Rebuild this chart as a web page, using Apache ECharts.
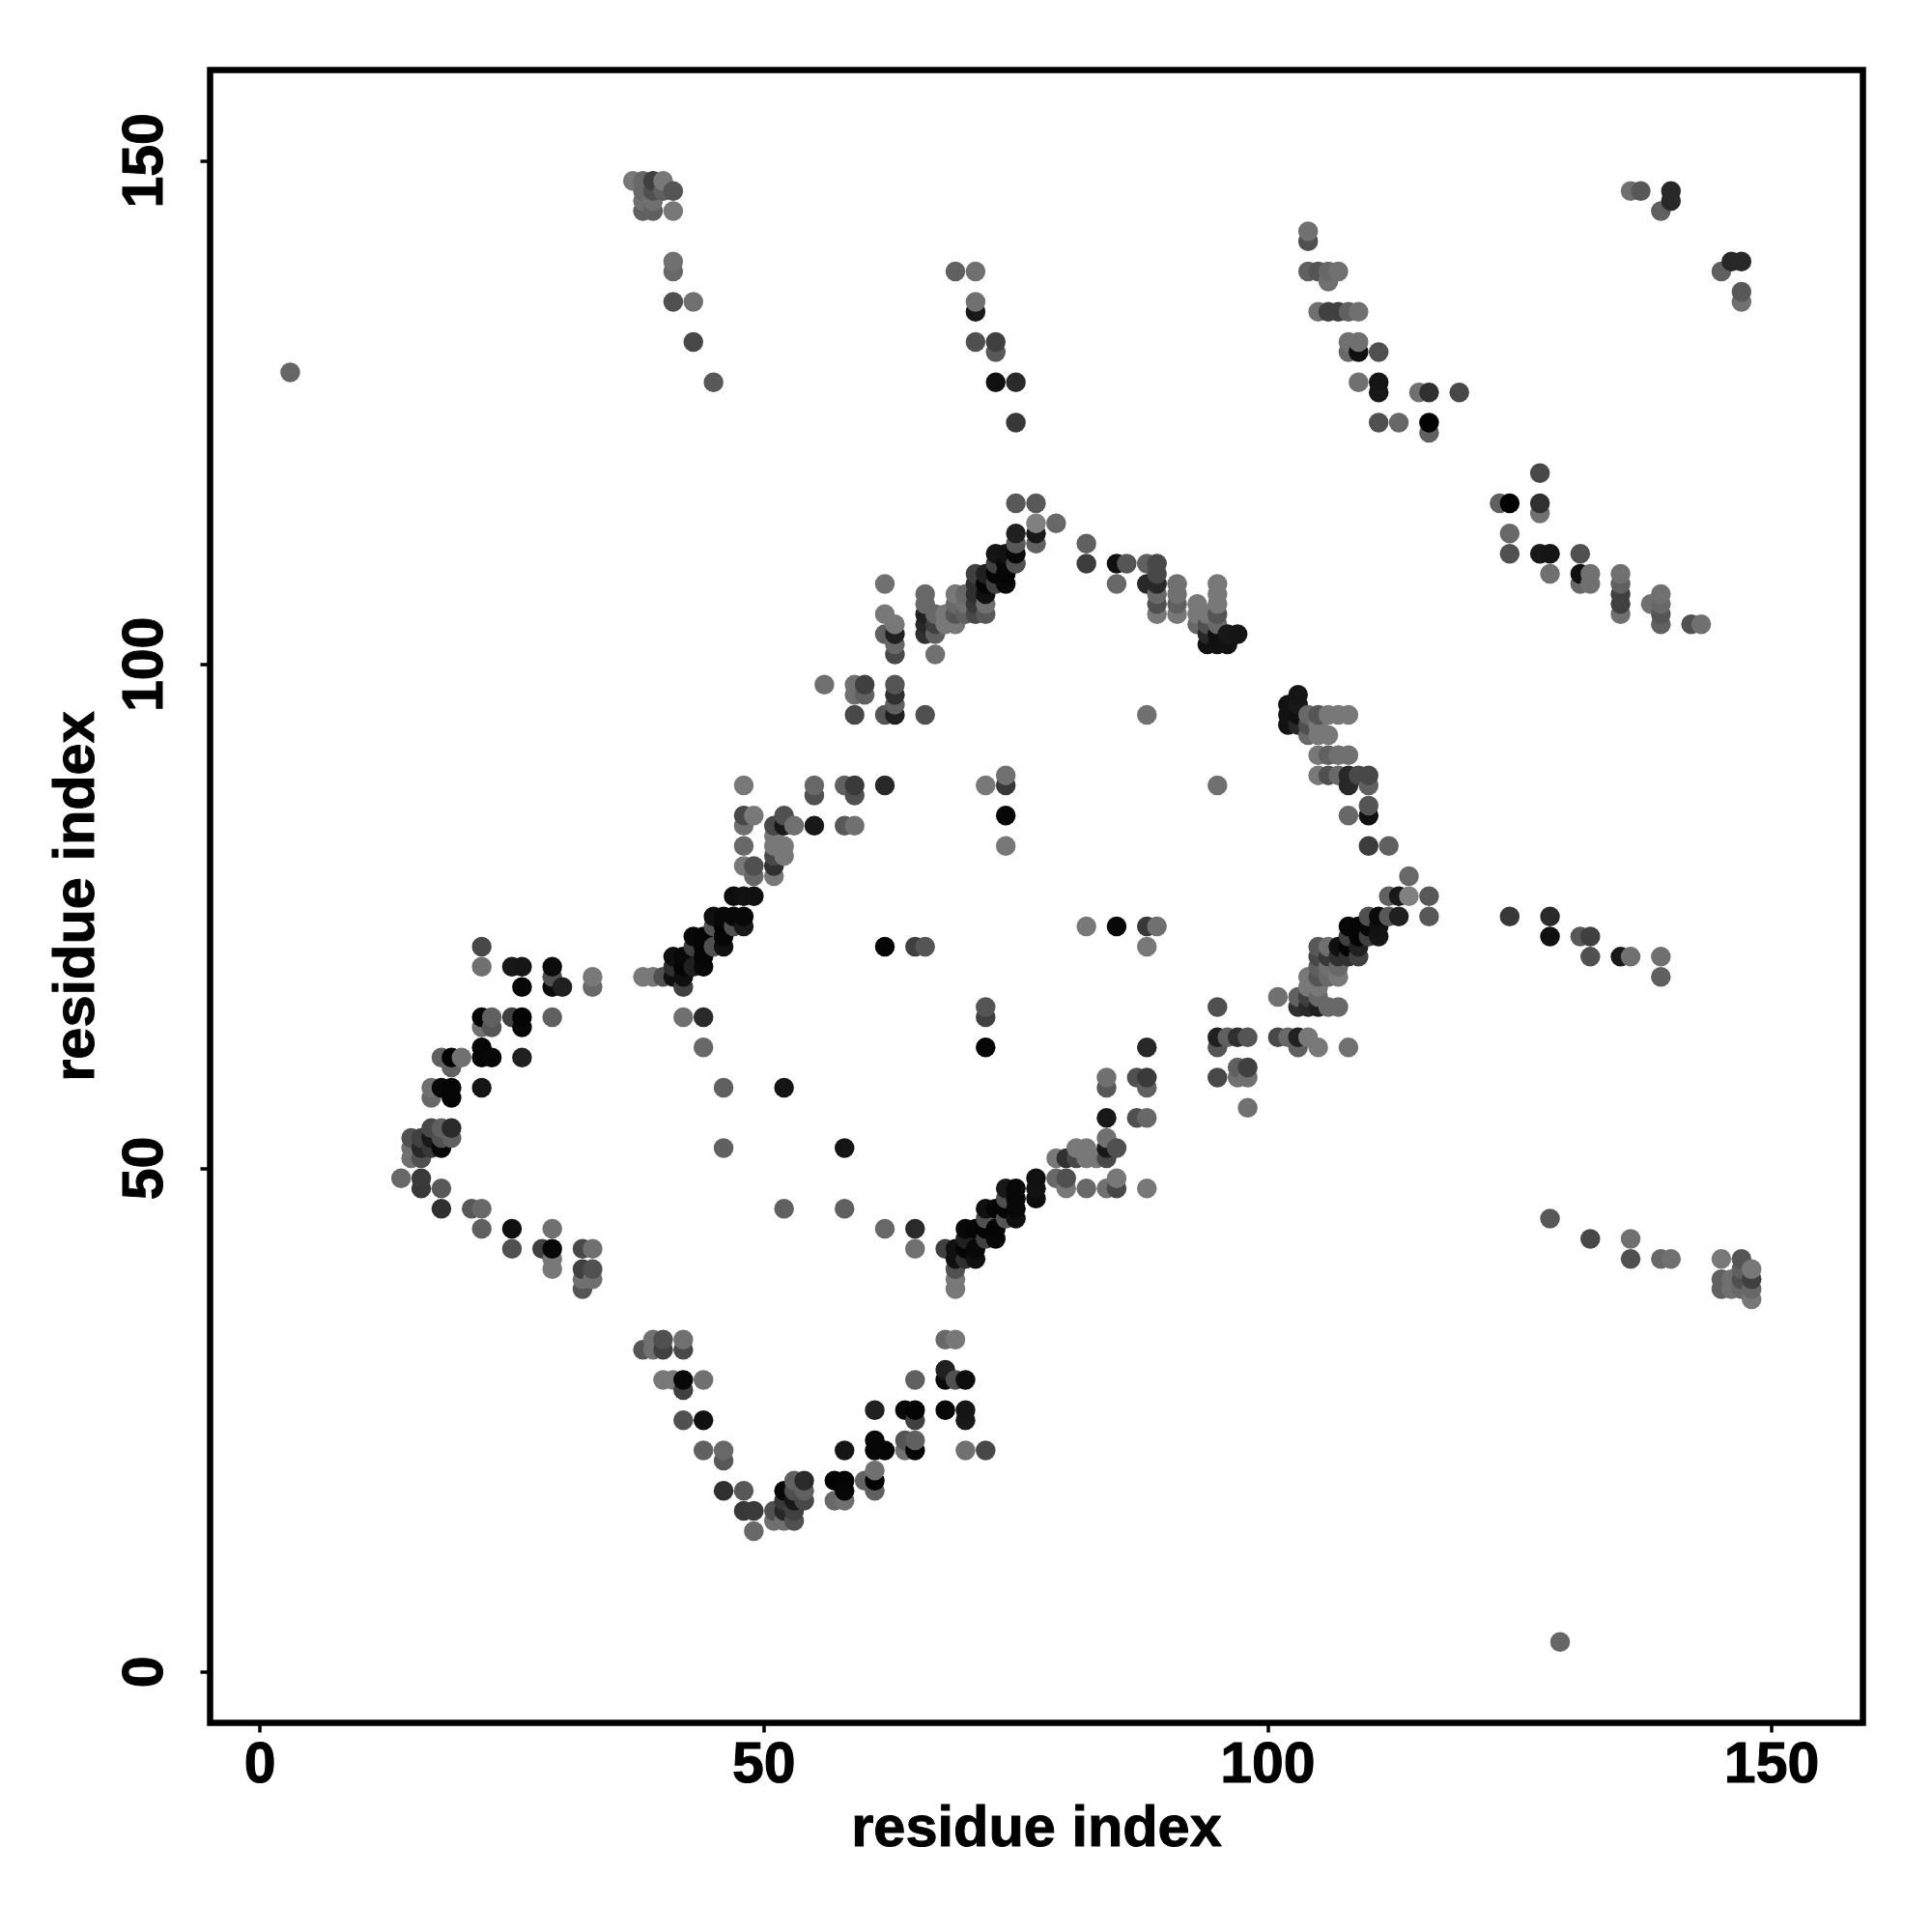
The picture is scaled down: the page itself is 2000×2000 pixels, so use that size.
<!DOCTYPE html>
<html>
<head>
<meta charset="utf-8">
<title>residue contact map</title>
<script src="https://cdn.jsdelivr.net/npm/echarts@6/dist/echarts.min.js"></script>
<style>html,body{margin:0;padding:0;background:#fff}#c{width:2000px;height:2000px}</style>
</head>
<body>
<div id="c"></div>
<script>
const tickValues = [0, 50, 100, 150];
const xTitle = 'residue index';
const yTitle = 'residue index';

// Contacts above the diagonal, grouped by x residue. Grey level read per dot.
const upperX = [3,14,15,16,17,18,19,20,21,22,23,25,26,28,29,30,32,33,37,38,39,40,41,42,43,44,45,46,47,48,49,51,52,53,55,56,58,59,60,62,63,65,66,67,68,69,70,71,72,73,74,75,77,79,82,85,86,88,89,91,93,94,95,96,97,104,105,106,107,108,109,111,113,115,116,119,136,137,139,140];
const upperY = [[129],[49],[51,52,53],[48,49,51,52,53],[52,53,54,57,58],[46,48,52,53,54,58,61],[53,54,57,58,60,61],[61],[46],[44,46,58,61,62,64,65,70,72],[61,64,65],[42,44,65,70],[61,64,65,68,70],[42],[40,41,42,44,65,68,69,70],[68],[38,39,40,42],[39,40,42,68,69],[148],[69,145,146,147,148],[69,145,146,147,148],[69,147,148],[69,70,71,136,139,140,145,147],[65,68,69,70,71],[70,72,73,132,136],[62,65,70,71,72,73],[72,74,75,128],[52,58,72,73,74,75],[74,75,77],[74,75,77,80,82,84,85,88],[77,79,80,85],[79,80,81,82,83,84],[58,81,82,84,85],[84],[84,87,88],[98],[84,88],[84,87,88,95,97,98],[97,98],[72,88,95,103,105,108],[95,96,97,98,101,102,103,104],[72],[72,95,103,104,105,106,107],[101,103,104,105],[104,105],[104,105,106,107,139],[105,106,107],[105,106,107,108,109,132,135,136,139],[88,105,106,107,108,109],[108,109,110,111,128,131,132],[82,85,88,89,108,109,110,111],[110,111,112,113,116,124,128],[112,113,114,116],[114],[110,112],[108,110],[110],[95,108,110],[105,106,107,108,109,110],[105,106,107,108],[104,105,106],[102,103,104,105],[102,103,104,105,106,107,108],[102,103],[103],[139,142,143],[135,139],[135,138,139],[135,139],[131,132,135],[128,131,132,135],[124,127,128,131],[124],[127],[123,124,127],[127],[147],[147],[145],[146,147]];
const upperGrey = [[0x66],[0x68],[0x70,0x70,0x50],[0x38,0x3a,0x50,0x28,0x40],[0x38,0x18,0x48,0x68,0x70],[0x30,0x58,0x08,0x50,0x60,0x08,0x60],[0x60,0x2a,0x03,0x05,0x62,0x02],[0x70],[0x58],[0x60,0x68,0x15,0x05,0x06,0x70,0x05,0x70,0x48],[0x08,0x55,0x60],[0x50,0x10,0x40,0x18],[0x20,0x08,0x04,0x08,0x15],[0x40],[0x78,0x78,0x08,0x70,0x60,0x0a,0x50,0x0c],[0x20],[0x55,0x70,0x40,0x48],[0x70,0x50,0x70,0x68,0x78],[0x78],[0x78,0x60,0x70,0x68,0x68],[0x78,0x60,0x70,0x50,0x40],[0x50,0x60,0x78],[0x10,0x30,0x10,0x50,0x68,0x70,0x78,0x55],[0x70,0x40,0x10,0x05,0x08],[0x20,0x40,0x08,0x48,0x70],[0x68,0x2a,0x08,0x05,0x05,0x05],[0x50,0x55,0x10,0x58],[0x60,0x60,0x10,0x05,0x05,0x08],[0x50,0x08,0x0c],[0x18,0x08,0x12,0x78,0x68,0x70,0x48,0x78],[0x10,0x68,0x50,0x78],[0x78,0x30,0x48,0x78,0x78,0x48],[0x15,0x78,0x78,0x18,0x50],[0x70],[0x18,0x50,0x68],[0x70],[0x58,0x60],[0x70,0x50,0x3a,0x48,0x70,0x70],[0x60,0x40],[0x06,0x28,0x55,0x60,0x78,0x70],[0x20,0x60,0x30,0x55,0x48,0x68,0x20,0x78],[0x40],[0x55,0x50,0x30,0x28,0x20,0x68,0x68],[0x70,0x60,0x40,0x68],[0x78,0x78],[0x78,0x55,0x68,0x78,0x60],[0x60,0x70,0x68],[0x48,0x38,0x30,0x30,0x40,0x50,0x18,0x70,0x70],[0x78,0x58,0x70,0x10,0x05,0x20],[0x40,0x05,0x40,0x15,0x10,0x58,0x40],[0x78,0x08,0x38,0x70,0x08,0x05,0x08,0x12],[0x50,0x0a,0x58,0x20,0x58,0x38,0x2a],[0x60,0x18,0x80,0x58],[0x68],[0x3c,0x60],[0x68,0x10],[0x55],[0x70,0x28,0x60],[0x78,0x50,0x68,0x28,0x48,0x48],[0x78,0x60,0x70,0x70],[0x68,0x78,0x78],[0x12,0x28,0x50,0x78],[0x12,0x10,0x68,0x55,0x78,0x78,0x78],[0x12,0x18],[0x15],[0x60,0x50,0x70],[0x70,0x55],[0x40,0x70,0x68],[0x40,0x70],[0x68,0x70,0x60],[0x70,0x10,0x70,0x70],[0x50,0x18,0x15,0x50],[0x68],[0x70],[0x60,0x02,0x30],[0x48],[0x70],[0x58],[0x60],[0x28,0x28]];

// Contacts below the diagonal, grouped by y residue. Grey level read per dot.
const lowerY = [3,14,15,16,17,18,19,20,21,22,23,25,26,28,29,30,32,33,37,38,39,40,41,42,43,44,45,46,47,48,49,51,52,53,55,56,58,59,60,62,63,65,66,67,68,69,70,71,72,73,74,75,77,79,82,85,86,88,89,91,93,94,95,96,97,104,105,106,107,108,109,111,113,115,116,119,136,137,139,140];
const lowerX = [[129],[49],[51,52,53],[48,49,51,52,53],[52,53,54,57,58],[46,48,52,53,54,58,61],[53,54,57,58,60,61],[61],[46],[44,46,58,61,62,64,65,70,72],[61,64,65],[42,44,65,70],[61,64,65,68,70],[42],[40,41,42,44,65,68,69,70],[68],[38,39,40,42],[39,40,42,68,69],[148],[69,145,146,147,148],[69,145,146,147,148],[69,147,148],[69,70,71,136,139,140,145,147],[65,68,69,70,71],[70,72,73,132,136],[62,65,70,71,72,73],[72,74,75,128],[52,58,72,73,74,75],[74,75,77],[74,75,77,80,82,84,85,88],[77,79,80,85],[79,80,81,82,83,84],[58,81,82,84,85],[84],[84,87,88],[98],[84,88],[84,87,88,95,97,98],[97,98],[72,88,95,103,105,108],[95,96,97,98,101,102,103,104],[72],[72,95,103,104,105,106,107],[101,103,104,105],[104,105],[104,105,106,107,139],[105,106,107],[105,106,107,108,109,132,135,136,139],[88,105,106,107,108,109],[108,109,110,111,128,131,132],[82,85,88,89,108,109,110,111],[110,111,112,113,116,124,128],[112,113,114,116],[114],[110,112],[108,110],[110],[95,108,110],[105,106,107,108,109,110],[105,106,107,108],[104,105,106],[102,103,104,105],[102,103,104,105,106,107,108],[102,103],[103],[139,142,143],[135,139],[135,138,139],[135,139],[131,132,135],[128,131,132,135],[124,127,128,131],[124],[127],[123,124,127],[127],[147],[147],[145],[146,147]];
const lowerGrey = [[0x66],[0x68],[0x70,0x70,0x50],[0x38,0x3a,0x50,0x28,0x40],[0x38,0x18,0x48,0x68,0x70],[0x30,0x58,0x08,0x50,0x60,0x08,0x60],[0x60,0x2a,0x03,0x05,0x62,0x02],[0x70],[0x58],[0x60,0x68,0x15,0x05,0x06,0x70,0x05,0x70,0x48],[0x08,0x55,0x60],[0x50,0x10,0x40,0x18],[0x20,0x08,0x04,0x08,0x15],[0x40],[0x78,0x78,0x08,0x70,0x60,0x0a,0x50,0x0c],[0x20],[0x55,0x70,0x40,0x48],[0x70,0x50,0x70,0x68,0x78],[0x78],[0x78,0x60,0x70,0x68,0x68],[0x78,0x60,0x70,0x50,0x40],[0x50,0x60,0x78],[0x10,0x30,0x10,0x50,0x68,0x70,0x78,0x55],[0x70,0x40,0x10,0x05,0x08],[0x20,0x40,0x08,0x48,0x70],[0x68,0x2a,0x08,0x05,0x05,0x05],[0x50,0x55,0x10,0x58],[0x60,0x60,0x10,0x05,0x05,0x08],[0x50,0x08,0x0c],[0x18,0x08,0x12,0x78,0x68,0x70,0x48,0x78],[0x10,0x68,0x50,0x78],[0x78,0x30,0x48,0x78,0x78,0x48],[0x15,0x78,0x78,0x18,0x50],[0x70],[0x18,0x50,0x68],[0x70],[0x58,0x60],[0x70,0x50,0x3a,0x48,0x70,0x70],[0x60,0x40],[0x06,0x28,0x55,0x60,0x78,0x70],[0x20,0x60,0x30,0x55,0x48,0x68,0x20,0x78],[0x40],[0x55,0x50,0x30,0x28,0x20,0x68,0x68],[0x70,0x60,0x40,0x68],[0x78,0x78],[0x78,0x55,0x68,0x78,0x60],[0x60,0x70,0x68],[0x48,0x38,0x30,0x30,0x40,0x50,0x18,0x70,0x70],[0x78,0x58,0x70,0x10,0x05,0x20],[0x40,0x05,0x40,0x15,0x10,0x58,0x40],[0x78,0x08,0x38,0x70,0x08,0x05,0x08,0x12],[0x50,0x0a,0x58,0x20,0x58,0x38,0x2a],[0x60,0x18,0x80,0x58],[0x68],[0x3c,0x60],[0x68,0x10],[0x55],[0x70,0x28,0x60],[0x78,0x50,0x68,0x28,0x48,0x48],[0x78,0x60,0x70,0x70],[0x68,0x78,0x78],[0x12,0x28,0x50,0x78],[0x12,0x10,0x68,0x55,0x78,0x78,0x78],[0x12,0x18],[0x15],[0x60,0x50,0x70],[0x70,0x55],[0x40,0x70,0x68],[0x40,0x70],[0x68,0x70,0x60],[0x70,0x10,0x70,0x70],[0x50,0x18,0x15,0x50],[0x68],[0x70],[0x60,0x02,0x30],[0x48],[0x70],[0x58],[0x60],[0x28,0x28]];

const rows = [];
upperX.forEach((x, i) => upperY[i].forEach((y, k) => rows.push([x, y, upperGrey[i][k]])));
lowerY.forEach((y, i) => lowerX[i].forEach((x, k) => rows.push([x, y, lowerGrey[i][k]])));
// paint order of the original: by x, then by y
rows.sort((a, b) => a[0] - b[0] || a[1] - b[1]);

const FONT = '"Liberation Sans"';
const chart = echarts.init(document.getElementById('c'), null, { renderer: 'canvas', width: 2000, height: 2000 });
function axis(min, max, margin, rotate, gap) {
  return {
    type: 'value', min, max, scale: false,
    name: xTitle, nameLocation: 'middle', nameGap: gap,
    nameTextStyle: { fontFamily: FONT, fontWeight: 'bold', fontSize: 59.5, color: '#000', textBorderColor: '#000', textBorderWidth: 1 },
    axisLine: { show: false, onZero: false },
    splitLine: { show: false },
    axisTick: { show: true, length: 10, lineStyle: { width: 3.5, color: '#000' }, customValues: tickValues },
    axisLabel: { show: true, rotate, margin, hideOverlap: false, showMinLabel: true, showMaxLabel: true, fontFamily: FONT, fontWeight: 'bold', fontSize: 59, color: '#000', textBorderColor: '#000', textBorderWidth: 1, customValues: tickValues }
  };
}
chart.setOption({
  animation: false,
  backgroundColor: '#fff',
  grid: { left: 217.5, right: 71.5, top: 72.5, bottom: 216.5, show: true, borderWidth: 6.5, borderColor: '#000', backgroundColor: 'transparent', containLabel: false },
  xAxis: axis(-4.95, 159.05, 16, 0, 81),
  yAxis: Object.assign(axis(-5.04, 159, 36, 90, 107), { name: yTitle }),
  series: [{
    type: 'scatter', data: rows, symbol: 'circle', symbolSize: 20.5, silent: true, large: false, progressive: 0,
    encode: { x: 0, y: 1 },
    itemStyle: { opacity: 1, color: p => { const g = p.data[2]; return 'rgb(' + g + ',' + g + ',' + g + ')'; } }
  }]
});
</script>
</body>
</html>
